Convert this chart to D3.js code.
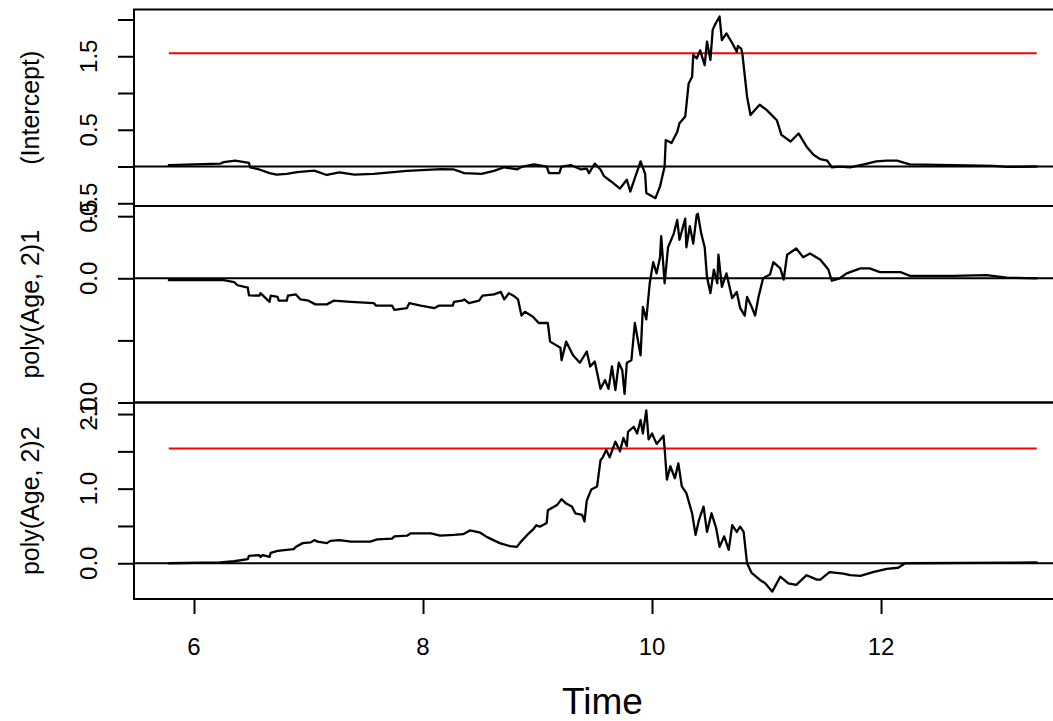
<!DOCTYPE html>
<html>
<head>
<meta charset="utf-8">
<script src="https://cdn.jsdelivr.net/npm/d3@7"></script>
<style>
  html, body { margin: 0; padding: 0; background: #fff; }
  svg { display: block; font-family: "Liberation Sans", Arial, Helvetica, sans-serif; }
</style>
</head>
<body>
<svg id="chart" width="1053" height="721"></svg>
<script>
// ---------------- data ----------------
const panelLabels = ["(Intercept)", "poly(Age, 2)1", "poly(Age, 2)2"];
const xLabel = "Time";
const xTicks = [6, 8, 10, 12];

// (Intercept)
const interceptTime = [5.78,6.23,6.26,6.36,6.48,6.49,6.57,6.66,6.72,6.81,6.90,7.05,7.16,7.27,7.40,7.57,7.86,8.16,8.27,8.36,8.51,8.62,8.71,8.82,8.86,8.97,9.08,9.10,9.19,9.21,9.29,9.38,9.43,9.45,9.50,9.55,9.58,9.64,9.72,9.78,9.81,9.90,9.94,9.95,10.03,10.07,10.11,10.12,10.17,10.22,10.24,10.29,10.32,10.35,10.36,10.39,10.42,10.46,10.48,10.51,10.53,10.55,10.59,10.61,10.65,10.70,10.74,10.75,10.78,10.79,10.83,10.86,10.91,10.94,11.00,11.09,11.13,11.21,11.28,11.35,11.41,11.47,11.53,11.57,11.64,11.73,11.85,11.96,12.05,12.14,12.25,12.63,12.98,13.10,13.36];
const interceptValue = [0.02,0.04,0.06,0.08,0.05,-0.01,-0.04,-0.09,-0.11,-0.10,-0.075,-0.057,-0.115,-0.08,-0.11,-0.10,-0.06,-0.035,-0.04,-0.09,-0.10,-0.06,-0.01,-0.04,-0.005,0.03,0.0,-0.09,-0.09,0.0,0.02,-0.04,-0.03,-0.09,0.04,-0.04,-0.13,-0.2,-0.3,-0.18,-0.34,0.07,-0.1,-0.36,-0.43,-0.27,0.0,0.36,0.32,0.47,0.59,0.68,1.13,1.22,1.52,1.47,1.58,1.38,1.70,1.45,1.86,1.93,2.04,1.72,1.81,1.68,1.56,1.64,1.60,1.52,0.95,0.70,0.79,0.84,0.77,0.63,0.43,0.34,0.45,0.27,0.16,0.10,0.08,-0.01,0.0,-0.01,0.03,0.07,0.08,0.08,0.03,0.02,0.01,-0.005,0.0];

// poly(Age, 2)1
const age1Time = [5.78,6.26,6.35,6.38,6.47,6.48,6.57,6.58,6.66,6.67,6.73,6.74,6.81,6.82,6.89,6.93,7.00,7.06,7.16,7.22,7.37,7.57,7.59,7.73,7.75,7.86,7.88,7.98,8.10,8.14,8.26,8.27,8.34,8.36,8.40,8.49,8.52,8.62,8.68,8.71,8.75,8.79,8.83,8.86,8.89,8.96,9.01,9.09,9.11,9.20,9.21,9.25,9.31,9.37,9.43,9.46,9.50,9.55,9.59,9.62,9.65,9.68,9.71,9.74,9.76,9.78,9.82,9.85,9.90,9.92,9.95,9.98,10.01,10.04,10.07,10.08,10.11,10.14,10.19,10.22,10.24,10.29,10.30,10.33,10.36,10.39,10.40,10.43,10.46,10.48,10.51,10.54,10.57,10.58,10.61,10.65,10.70,10.74,10.77,10.81,10.83,10.87,10.90,10.93,10.97,11.03,11.06,11.12,11.15,11.18,11.26,11.32,11.38,11.47,11.54,11.57,11.64,11.70,11.82,11.90,11.99,12.17,12.25,12.63,12.92,13.10,13.36];
const age1Value = [-0.014,-0.014,-0.03,-0.056,-0.076,-0.137,-0.14,-0.12,-0.19,-0.14,-0.15,-0.18,-0.18,-0.14,-0.13,-0.17,-0.18,-0.21,-0.21,-0.18,-0.19,-0.20,-0.22,-0.22,-0.255,-0.24,-0.20,-0.22,-0.24,-0.22,-0.22,-0.19,-0.18,-0.17,-0.20,-0.18,-0.14,-0.13,-0.11,-0.17,-0.12,-0.14,-0.17,-0.30,-0.27,-0.31,-0.36,-0.36,-0.51,-0.56,-0.66,-0.51,-0.62,-0.68,-0.59,-0.71,-0.67,-0.89,-0.82,-0.89,-0.71,-0.90,-0.68,-0.74,-0.93,-0.68,-0.66,-0.36,-0.62,-0.23,-0.33,-0.04,0.13,0.04,0.17,0.34,-0.04,0.25,0.36,0.47,0.31,0.48,0.25,0.42,0.28,0.51,0.52,0.36,0.25,0.01,-0.12,0.07,-0.04,0.19,-0.07,0.04,-0.16,-0.11,-0.24,-0.30,-0.15,-0.23,-0.30,-0.15,0.0,0.03,0.13,0.08,-0.01,0.19,0.24,0.17,0.20,0.15,0.07,-0.02,0.0,0.04,0.08,0.08,0.05,0.05,0.02,0.02,0.025,0.005,0.0];

// poly(Age, 2)2
const age2Time = [5.78,6.23,6.35,6.47,6.48,6.57,6.58,6.60,6.66,6.67,6.73,6.87,6.89,6.95,7.02,7.05,7.08,7.16,7.19,7.27,7.37,7.54,7.60,7.73,7.75,7.86,7.89,8.07,8.15,8.27,8.35,8.41,8.50,8.56,8.67,8.76,8.82,8.85,8.91,8.96,8.99,9.02,9.08,9.09,9.17,9.21,9.25,9.30,9.33,9.39,9.41,9.43,9.47,9.52,9.55,9.57,9.60,9.63,9.68,9.72,9.75,9.78,9.79,9.84,9.87,9.90,9.92,9.95,9.97,10.00,10.04,10.10,10.11,10.13,10.16,10.20,10.23,10.26,10.30,10.35,10.38,10.41,10.45,10.48,10.52,10.56,10.59,10.63,10.67,10.70,10.74,10.77,10.80,10.83,10.87,10.94,10.99,11.05,11.12,11.19,11.26,11.35,11.44,11.47,11.55,11.67,11.73,11.82,11.93,12.05,12.15,12.21,13.36];
const age2Value = [0.0,0.013,0.027,0.054,0.098,0.11,0.085,0.11,0.085,0.14,0.165,0.19,0.22,0.27,0.28,0.31,0.29,0.27,0.30,0.31,0.29,0.29,0.32,0.33,0.36,0.37,0.40,0.40,0.37,0.38,0.39,0.44,0.41,0.35,0.27,0.23,0.22,0.28,0.38,0.45,0.51,0.49,0.54,0.71,0.78,0.86,0.80,0.76,0.67,0.65,0.56,0.84,0.99,1.03,1.38,1.42,1.52,1.42,1.63,1.50,1.68,1.57,1.76,1.83,1.74,1.92,1.74,2.05,1.66,1.74,1.60,1.71,1.54,1.12,1.30,1.14,1.34,1.03,0.94,0.67,0.38,0.58,0.76,0.42,0.67,0.47,0.22,0.36,0.18,0.51,0.42,0.49,0.42,0.0,-0.13,-0.22,-0.27,-0.38,-0.18,-0.27,-0.29,-0.16,-0.22,-0.22,-0.12,-0.14,-0.16,-0.17,-0.12,-0.075,-0.06,0.0,0.01];

// critical value lines (red) and time span they cover
const interceptCrit = 1.54;
const age2Crit = 1.54;
const critSpan = [5.78, 13.36];

// y axis ticks and the labels that are printed
const ticks1 = [-0.5, 0, 0.5, 1, 1.5, 2];
const labels1 = [-0.5, 0.5, 1.5];
const ticks2 = [-1, -0.5, 0, 0.5];
const labels2 = [-1, 0, 0.5];
const ticks3 = [0, 0.5, 1, 1.5, 2];
const labels3 = [0, 1, 2];

// y ranges of each panel
const yDomain1 = [-0.537, 2.136];
const yDomain2 = [-1.0, 0.582];
const yDomain3 = [-0.479, 2.155];
const xDomain = [5.476, 13.659];

// ---------------- drawing ----------------
const svg = d3.select("#chart");
const L = 134, R = 1071;
const bounds = [[9.5, 206], [206, 402.5], [402.5, 599]];

const x = d3.scaleLinear().domain(xDomain).range([L, R]);

const zip = (ts, vs) => ts.map((t, i) => ({t: t, v: vs[i]}));

const panels = [
  {label: panelLabels[0], data: zip(interceptTime, interceptValue), dom: yDomain1, ticks: ticks1, labels: labels1, crit: interceptCrit},
  {label: panelLabels[1], data: zip(age1Time, age1Value), dom: yDomain2, ticks: ticks2, labels: labels2, crit: null},
  {label: panelLabels[2], data: zip(age2Time, age2Value), dom: yDomain3, ticks: ticks3, labels: labels3, crit: age2Crit}
];

const tickFont = 24, labFont = 25, xlabFont = 37;

panels.forEach((p, i) => {
  const [top, bot] = bounds[i];
  const y = d3.scaleLinear().domain(p.dom).range([bot, top]);
  const g = svg.append("g");

  // zero line
  g.append("line")
    .attr("x1", L).attr("x2", R)
    .attr("y1", y(0)).attr("y2", y(0))
    .attr("stroke", "#000").attr("stroke-width", 2);

  // critical value line
  if (p.crit !== null) {
    g.append("line")
      .attr("x1", x(critSpan[0])).attr("x2", x(critSpan[1]))
      .attr("y1", y(p.crit)).attr("y2", y(p.crit))
      .attr("stroke", "#ff0000").attr("stroke-width", 2);
  }

  // process line
  const line = d3.line().x(d => x(d.t)).y(d => y(d.v));
  g.append("path").datum(p.data)
    .attr("d", line)
    .attr("fill", "none")
    .attr("stroke", "#000")
    .attr("stroke-width", 2.3)
    .attr("stroke-linejoin", "round")
    .attr("stroke-linecap", "round");

  // y axis ticks
  const ax = g.append("g").attr("transform", `translate(${L},0)`)
    .call(d3.axisLeft(y).tickValues(p.ticks).tickSize(16).tickSizeOuter(0).tickFormat(""));
  ax.select(".domain").remove();
  ax.selectAll(".tick line").attr("stroke", "#000").attr("stroke-width", 2);

  // y tick labels (rotated, R style)
  g.selectAll("text.ylab").data(p.labels).enter().append("text")
    .attr("transform", d => `translate(97,${y(d)}) rotate(-90)`)
    .attr("text-anchor", "middle")
    .attr("font-size", tickFont)
    .attr("fill", "#000")
    .text(d => d3.format(".1f")(d).replace("\u2212", "-"));

  // frame
  g.append("rect")
    .attr("x", L).attr("y", top)
    .attr("width", R - L).attr("height", bot - top)
    .attr("fill", "none").attr("stroke", "#000").attr("stroke-width", 2);

  // panel label
  g.append("text")
    .attr("transform", `translate(39,${(top + bot) / 2}) rotate(-90)`)
    .attr("text-anchor", "middle")
    .attr("font-size", labFont)
    .attr("fill", "#000")
    .text(p.label);
});

// x axis
const xa = svg.append("g").attr("transform", `translate(0,599)`)
  .call(d3.axisBottom(x).tickValues(xTicks).tickSize(15).tickSizeOuter(0).tickFormat(""));
xa.select(".domain").remove();
xa.selectAll(".tick line").attr("stroke", "#000").attr("stroke-width", 2);

svg.selectAll("text.xtick").data(xTicks).enter().append("text")
  .attr("x", d => x(d)).attr("y", 655)
  .attr("text-anchor", "middle")
  .attr("font-size", tickFont)
  .attr("fill", "#000")
  .text(d => d);

svg.append("text")
  .attr("x", (L + R) / 2).attr("y", 714)
  .attr("text-anchor", "middle")
  .attr("font-size", xlabFont)
  .attr("fill", "#000")
  .text(xLabel);
</script>
</body>
</html>
